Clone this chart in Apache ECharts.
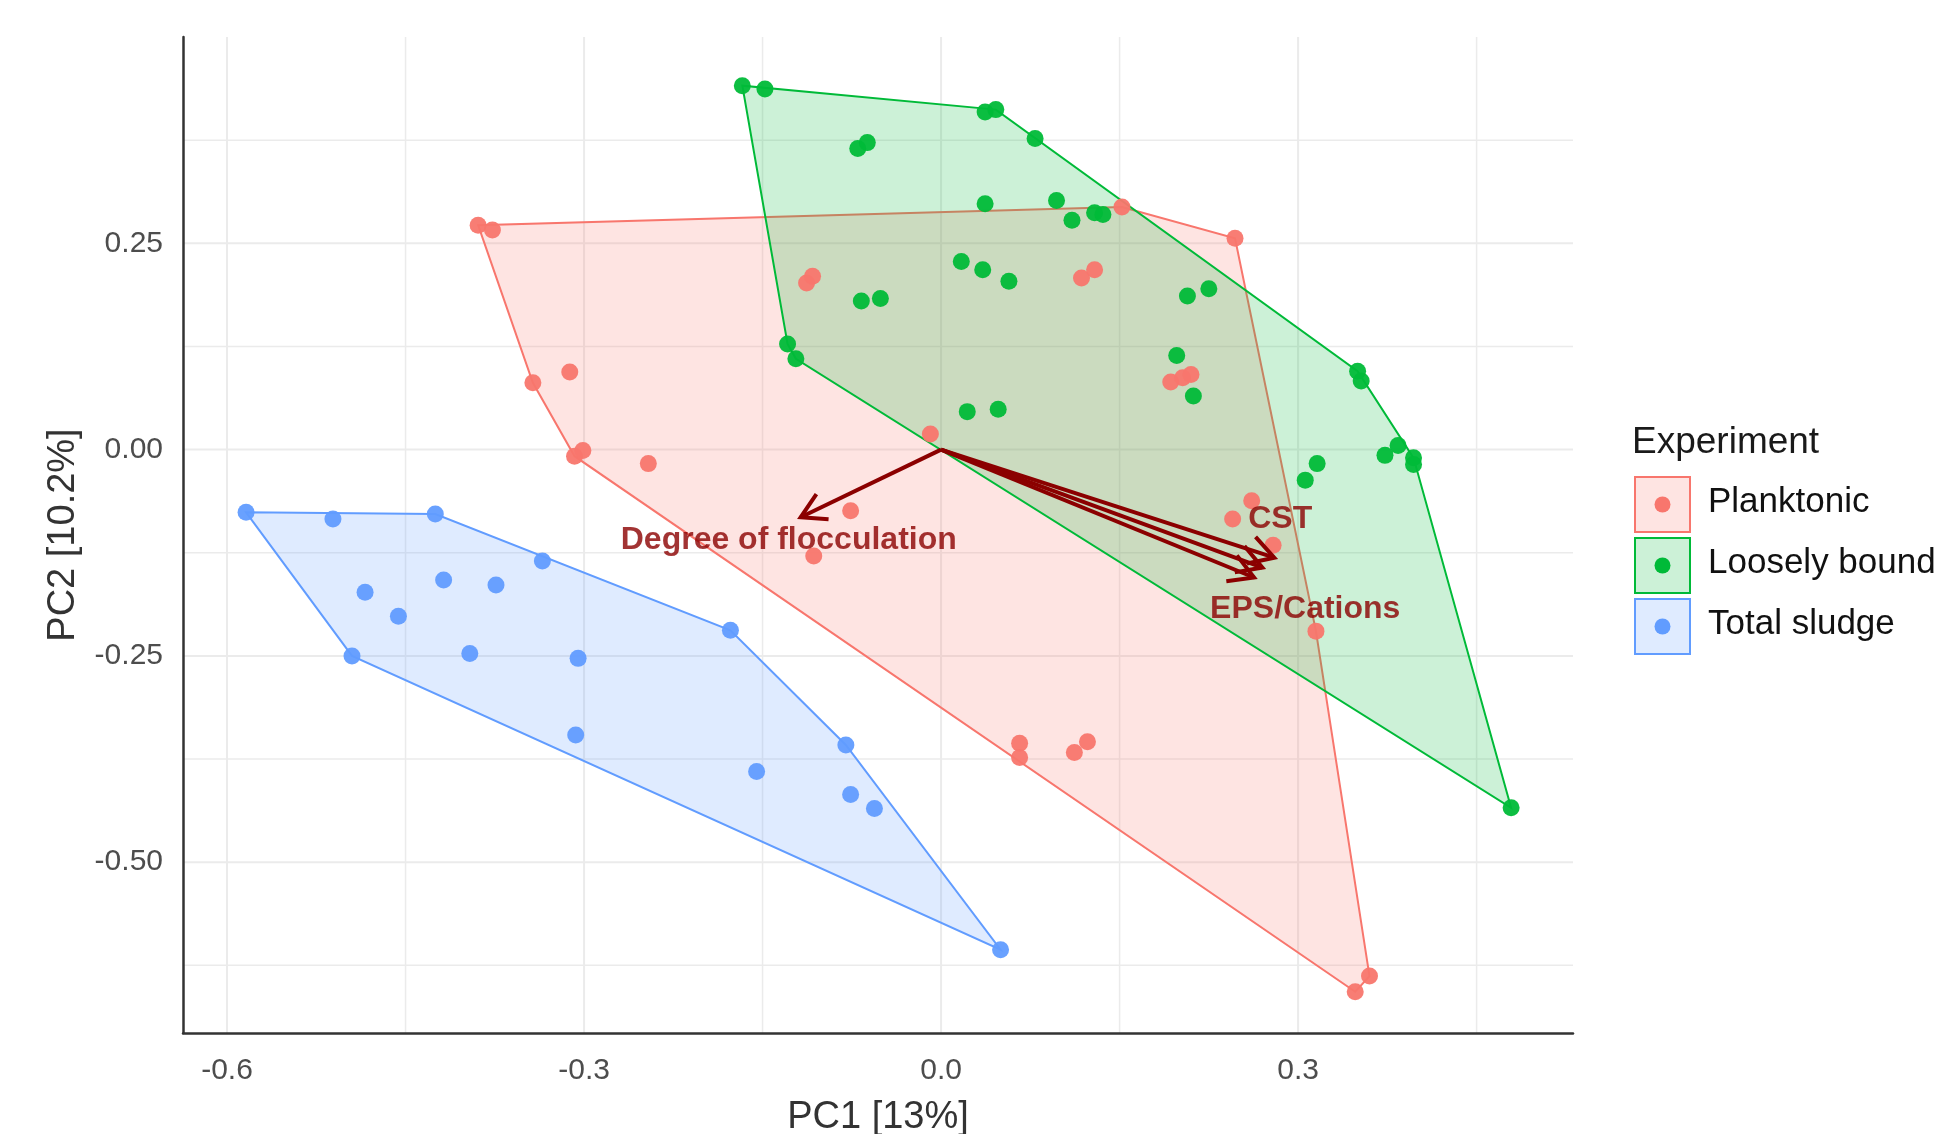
<!DOCTYPE html>
<html>
<head>
<meta charset="utf-8">
<title>PCA biplot</title>
<script src="https://cdn.jsdelivr.net/npm/echarts@6/dist/echarts.min.js"></script>
<style>
html, body { margin: 0; padding: 0; background: #fff; }
#chart { width: 1942px; height: 1134px; }
</style>
</head>
<body>
<div id="chart"></div>
<script>
// PCA scores [PC1, PC2]
var planktonic = [
  [-0.389, 0.272], [-0.377, 0.266], [-0.343, 0.081], [-0.312, 0.094],
  [-0.308, -0.008], [-0.301, -0.001], [-0.246, -0.017], [-0.113, 0.202],
  [-0.108, 0.210], [-0.076, -0.074], [-0.107, -0.129], [-0.009, 0.019],
  [0.152, 0.294], [0.247, 0.256], [0.118, 0.208], [0.129, 0.218],
  [0.193, 0.082], [0.203, 0.087], [0.210, 0.091], [0.261, -0.062],
  [0.245, -0.084], [0.279, -0.116], [0.315, -0.220], [0.066, -0.356],
  [0.066, -0.373], [0.112, -0.367], [0.123, -0.354], [0.348, -0.657],
  [0.360, -0.638]
];
var looselyBound = [
  [-0.167, 0.441], [-0.148, 0.437], [-0.070, 0.365], [-0.062, 0.372],
  [0.037, 0.409], [0.046, 0.412], [0.079, 0.377], [0.037, 0.298],
  [0.097, 0.302], [0.110, 0.278], [0.129, 0.287], [0.136, 0.285],
  [0.017, 0.228], [0.035, 0.218], [0.057, 0.204], [-0.067, 0.180],
  [-0.051, 0.183], [-0.129, 0.128], [-0.122, 0.110], [0.207, 0.186],
  [0.225, 0.195], [0.198, 0.114], [0.212, 0.065], [0.022, 0.046],
  [0.048, 0.049], [0.350, 0.095], [0.353, 0.083], [0.373, -0.007],
  [0.384, 0.005], [0.397, -0.010], [0.397, -0.018], [0.306, -0.037],
  [0.316, -0.017], [0.479, -0.434]
];
var totalSludge = [
  [-0.584, -0.076], [-0.511, -0.084], [-0.425, -0.078], [-0.335, -0.135],
  [-0.484, -0.173], [-0.456, -0.202], [-0.418, -0.158], [-0.374, -0.164],
  [-0.495, -0.250], [-0.396, -0.247], [-0.305, -0.253], [-0.307, -0.346],
  [-0.177, -0.219], [-0.080, -0.358], [-0.155, -0.390], [-0.076, -0.418],
  [-0.056, -0.435], [0.050, -0.606]
];

var groupNames = ['Planktonic', 'Loosely bound', 'Total sludge'];
var groupColors = ['#F8766D', '#00BA38', '#619CFF'];

// loading arrows (tips) and their labels
var loadingTips = [[-0.118, -0.082], [0.280, -0.131], [0.270, -0.143], [0.263, -0.155]];
var labelNames = ['Degree of flocculation', 'CST', 'EPS/Cations'];
var labelPos = [[-0.128, -0.110], [0.285, -0.084], [0.306, -0.193]];

// axes
var xTicks = [-0.6, -0.3, 0, 0.3];
var yTicks = [0.25, 0, -0.25, -0.5];
var xMinor = [-0.45, -0.15, 0.15, 0.45];
var yMinor = [0.375, 0.125, -0.125, -0.375, -0.625];
var xRange = [-0.637, 0.531];
var yRange = [-0.707, 0.500];

var FONT = '"Liberation Sans", Arial, sans-serif';
var ARROW = '#8b0000';

function rgba(hex, a) {
  var n = parseInt(hex.slice(1), 16);
  return 'rgba(' + (n >> 16) + ',' + ((n >> 8) & 255) + ',' + (n & 255) + ',' + a + ')';
}

// monotone chain convex hull
function convexHull(pts) {
  var p = pts.slice().sort(function (a, b) { return a[0] - b[0] || a[1] - b[1]; });
  function cross(o, a, b) { return (a[0] - o[0]) * (b[1] - o[1]) - (a[1] - o[1]) * (b[0] - o[0]); }
  var lower = [], upper = [];
  for (var i = 0; i < p.length; i++) {
    while (lower.length >= 2 && cross(lower[lower.length - 2], lower[lower.length - 1], p[i]) <= 0) lower.pop();
    lower.push(p[i]);
  }
  for (var j = p.length - 1; j >= 0; j--) {
    while (upper.length >= 2 && cross(upper[upper.length - 2], upper[upper.length - 1], p[j]) <= 0) upper.pop();
    upper.push(p[j]);
  }
  upper.pop(); lower.pop();
  return lower.concat(upper);
}

function gridSeries(values, vertical, width) {
  return {
    type: 'custom', silent: true, z: 0,
    data: values.map(function (v) { return vertical ? [v, 0] : [0, v]; }),
    encode: { x: 0, y: 1 },
    renderItem: function (params, api) {
      var cs = params.coordSys;
      var p = api.coord([api.value(0), api.value(1)]);
      var shape = vertical
        ? { x1: p[0], y1: cs.y, x2: p[0], y2: cs.y + cs.height }
        : { x1: cs.x, y1: p[1], x2: cs.x + cs.width, y2: p[1] };
      return { type: 'line', shape: shape, style: { stroke: '#ebebeb', lineWidth: width } };
    }
  };
}

function hullSeries(pts, color) {
  var hull = convexHull(pts);
  return {
    type: 'custom', silent: true, z: 1,
    data: hull, encode: { x: 0, y: 1 },
    renderItem: function (params, api) {
      if (params.dataIndex !== 0) return null;
      return {
        type: 'polygon',
        shape: { points: hull.map(function (h) { return api.coord(h); }) },
        style: { fill: rgba(color, 0.2), stroke: color, lineWidth: 2 }
      };
    }
  };
}

var groups = [planktonic, looselyBound, totalSludge];
var series = [
  gridSeries(xMinor, true, 1.5), gridSeries(yMinor, false, 1.5),
  gridSeries(xTicks, true, 2), gridSeries(yTicks, false, 2)
];
groups.forEach(function (g, i) { series.push(hullSeries(g, groupColors[i])); });
groups.forEach(function (g, i) {
  series.push({
    type: 'scatter', name: groupNames[i], data: g, z: 3,
    symbol: 'circle', symbolSize: 17,
    itemStyle: { color: groupColors[i], opacity: 0.95 }
  });
});

// loading arrows with open heads
series.push({
  type: 'custom', silent: true, z: 4,
  data: loadingTips, encode: { x: 0, y: 1 },
  renderItem: function (params, api) {
    var o = api.coord([0, 0]);
    var t = api.coord([api.value(0), api.value(1)]);
    var ang = Math.atan2(t[1] - o[1], t[0] - o[0]);
    var len = 28, spread = Math.PI / 6;
    var a1 = [t[0] - len * Math.cos(ang - spread), t[1] - len * Math.sin(ang - spread)];
    var a2 = [t[0] - len * Math.cos(ang + spread), t[1] - len * Math.sin(ang + spread)];
    return {
      type: 'group',
      children: [
        { type: 'line', shape: { x1: o[0], y1: o[1], x2: t[0], y2: t[1] },
          style: { stroke: ARROW, lineWidth: 4 } },
        { type: 'polyline', shape: { points: [a1, t, a2] },
          style: { stroke: ARROW, lineWidth: 4, fill: null } }
      ]
    };
  }
});

series.push({
  type: 'scatter', silent: true, z: 5, symbolSize: 0,
  data: labelNames.map(function (n, i) { return { name: n, value: labelPos[i] }; }),
  label: {
    show: true, position: 'inside', formatter: '{b}',
    fontFamily: FONT, fontWeight: 'bold', fontSize: 32, color: ARROW
  }
});

// legend drawn as graphic: title, keyed boxes, labels
var graphic = [{
  type: 'text', z: 10,
  style: { text: 'Experiment', x: 1632, y: 443, verticalAlign: 'middle',
           fontFamily: FONT, fontSize: 37, fill: '#1a1a1a' }
}];
groupNames.forEach(function (n, i) {
  var top = 477 + 61 * i;
  graphic.push({
    type: 'rect', z: 10,
    shape: { x: 1635, y: top, width: 55, height: 55 },
    style: { fill: rgba(groupColors[i], 0.2), stroke: groupColors[i], lineWidth: 2 }
  });
  graphic.push({
    type: 'circle', z: 11,
    shape: { cx: 1662.5, cy: top + 27.5, r: 8 },
    style: { fill: groupColors[i] }
  });
  graphic.push({
    type: 'text', z: 10,
    style: { text: n, x: 1708, y: top + 25, verticalAlign: 'middle',
             fontFamily: FONT, fontSize: 35, fill: '#111' }
  });
});

var chart = echarts.init(document.getElementById('chart'));
chart.setOption({
  animation: false,
  backgroundColor: '#fff',
  grid: { left: 183, right: 369, top: 37, bottom: 101, containLabel: false, outerBoundsMode: 'none' },
  xAxis: {
    type: 'value', min: xRange[0], max: xRange[1],
    splitLine: { show: false },
    axisLine: { show: true, onZero: false, lineStyle: { color: '#333', width: 2.5 } },
    axisTick: { show: false },
    axisLabel: {
      customValues: xTicks, margin: 23,
      formatter: function (v) { return v.toFixed(1); },
      fontFamily: FONT, fontSize: 30, color: '#4d4d4d'
    },
    name: 'PC1 [13%]', nameLocation: 'middle', nameGap: 66,
    nameTextStyle: { fontFamily: FONT, fontSize: 38, color: '#333' }
  },
  yAxis: {
    type: 'value', min: yRange[0], max: yRange[1],
    splitLine: { show: false },
    axisLine: { show: true, onZero: false, lineStyle: { color: '#333', width: 2.5 } },
    axisTick: { show: false },
    axisLabel: {
      customValues: yTicks, margin: 20,
      formatter: function (v) { return v.toFixed(2); },
      fontFamily: FONT, fontSize: 30, color: '#4d4d4d'
    },
    name: 'PC2 [10.2%]', nameLocation: 'middle', nameGap: 100, nameRotate: 90,
    nameTextStyle: { fontFamily: FONT, fontSize: 38, color: '#333' }
  },
  graphic: graphic,
  series: series
});
</script>
</body>
</html>
